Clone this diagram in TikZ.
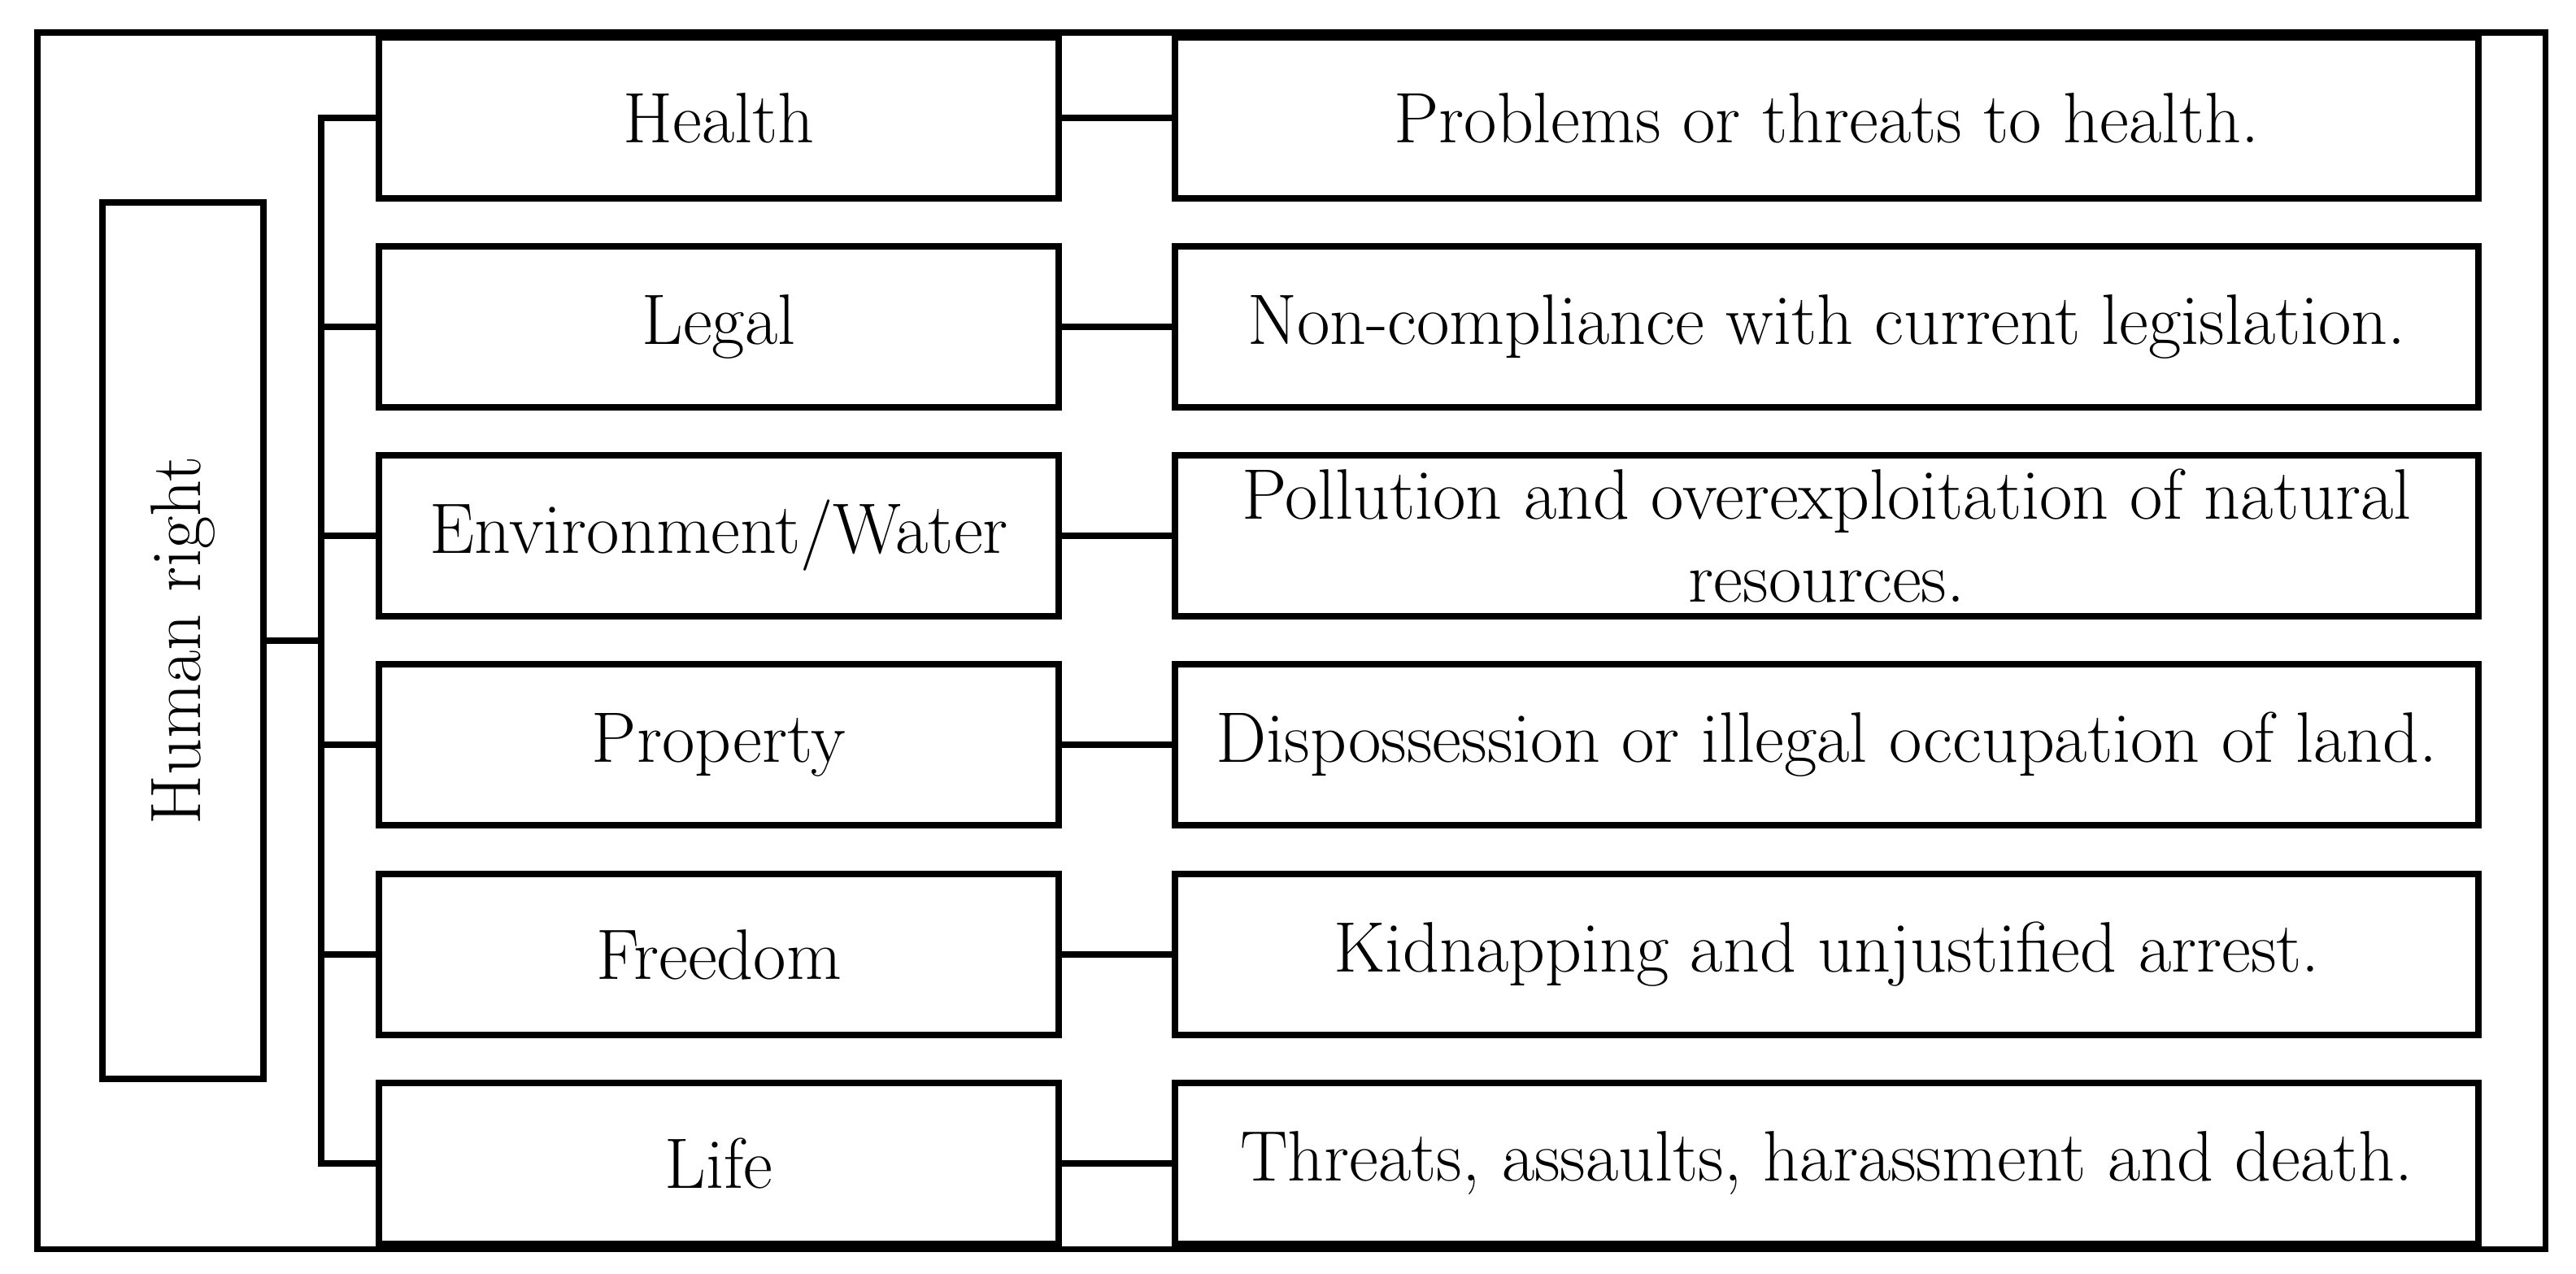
\documentclass[tikz,border=0pt]{standalone}
\tikzset{
  rightbox/.style={draw,line width=2.5pt,minimum width=8.36cm,minimum height=1.98cm,inner sep=0pt},
  threatbox/.style={draw,line width=2.5pt,minimum width=16.03cm,minimum height=1.98cm,inner sep=0pt,align=center},
  link/.style={line width=2.5pt}
}
\begin{document}
\begin{tikzpicture}[font=\fontsize{25}{29}\selectfont]
        \useasboundingbox (0,0) rectangle (31.68,-15.67);
        %% outer frame
        \draw[line width=2pt] (0.46,-0.40) rectangle (31.30,-15.36);
        %% human right
        \node[draw,line width=2.5pt,minimum width=1.98cm,minimum height=10.78cm,inner sep=0pt] (hr) at (2.25,-7.88) {};
        \node[rotate=90] at (hr.center) {Human right};
        %% rights
        \node[rightbox] (health) at (8.84,-1.45) {Health};
        \node[rightbox] (legal) at (8.84,-4.02) {Legal};
        \node[rightbox] (env) at (8.84,-6.59) {Environment/Water};
        \node[rightbox] (property) at (8.84,-9.16) {Property};
        \node[rightbox] (freedom) at (8.84,-11.74) {Freedom};
        \node[rightbox] (life) at (8.84,-14.31) {Life};
        %% threats
        \node[threatbox] (healthT) at (22.465,-1.45) {Problems or threats to health.};
        \node[threatbox] (legalT) at (22.465,-4.02) {Non-compliance with current legislation.};
        \node[threatbox] (envT) at (22.465,-6.59) {Pollution and overexploitation of natural\\resources.};
        \node[threatbox] (propertyT) at (22.465,-9.16) {Dispossession or illegal occupation of land.};
        \node[threatbox] (freedomT) at (22.465,-11.74) {Kidnapping and unjustified arrest.};
        \node[threatbox] (lifeT) at (22.465,-14.31) {Threats, assaults, harassment and death.};
        %% bus
        \coordinate (bustop) at (3.95,-1.45);
        \coordinate (busbot) at (3.95,-14.31);
        \draw[link] (health.west) -| (busbot) -- (life.west);
        \draw[link] (legal.west) -- (legal.west -| bustop);
        \draw[link] (env.west) -- (env.west -| bustop);
        \draw[link] (property.west) -- (property.west -| bustop);
        \draw[link] (freedom.west) -- (freedom.west -| bustop);
        \draw[link] (hr.east) -- (hr.east -| bustop);
        %% links to threats
        \draw[link] (health.east) -- (healthT.west);
        \draw[link] (legal.east) -- (legalT.west);
        \draw[link] (env.east) -- (envT.west);
        \draw[link] (property.east) -- (propertyT.west);
        \draw[link] (freedom.east) -- (freedomT.west);
        \draw[link] (life.east) -- (lifeT.west);
    \end{tikzpicture}
\end{document}
